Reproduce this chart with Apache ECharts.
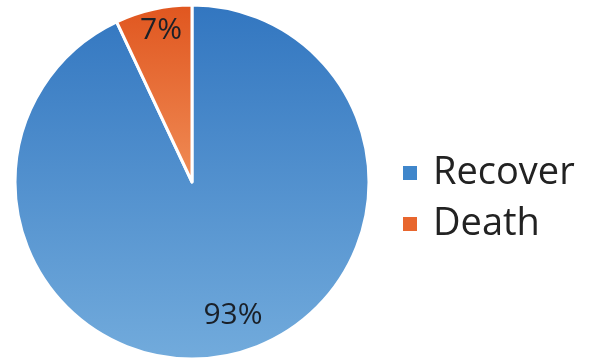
<!DOCTYPE html>
<html>
<head>
<meta charset="utf-8">
<script src="https://cdn.jsdelivr.net/npm/echarts@6/dist/echarts.min.js"></script>
<style>
  html, body { margin: 0; padding: 0; background: #ffffff; }
  #chart { width: 594px; height: 360px; }
</style>
</head>
<body>
<div id="chart"></div>
<script>
// Outcome shares (percent)
const categories = ['Recover', 'Death'];
const shares = [93, 7];
const sliceLabels = ['93%', '7%'];

// Per-slice look: vertical gradient, flat legend swatch and label nudge
const sliceStyles = [
  { top: '#3276c0', bottom: '#72abdc', swatch: '#3f86cb', offset: [21, 44] },
  { top: '#e0561f', bottom: '#f08c56', swatch: '#e8662e', offset: [-11, -62] }
];

const chart = echarts.init(document.getElementById('chart'), null, { renderer: 'canvas' });

const data = categories.map((name, i) => ({
  name: name,
  value: shares[i],
  itemStyle: {
    color: new echarts.graphic.LinearGradient(0, 0, 0, 1, [
      { offset: 0, color: sliceStyles[i].top },
      { offset: 1, color: sliceStyles[i].bottom }
    ])
  },
  label: { offset: sliceStyles[i].offset }
}));

chart.setOption({
  animation: false,
  backgroundColor: '#ffffff',
  legend: {
    orient: 'vertical',
    left: 396,
    top: 149,
    icon: 'rect',
    itemWidth: 16,
    itemHeight: 16,
    itemGap: 13,
    data: categories.map((name, i) => ({
      name: name,
      itemStyle: { color: sliceStyles[i].swatch }
    })),
    textStyle: {
      fontFamily: 'Open Sans',
      fontSize: 38,
      lineHeight: 38,
      color: '#222222',
      padding: [0, 0, 0, 10]
    }
  },
  series: [{
    type: 'pie',
    center: [192, 182],
    radius: [0, 177],
    startAngle: 90,
    clockwise: true,
    silent: true,
    data: data,
    itemStyle: {
      borderColor: '#ffffff',
      borderWidth: 3
    },
    label: {
      show: true,
      position: 'inside',
      formatter: (p) => sliceLabels[p.dataIndex],
      fontFamily: 'Open Sans',
      fontSize: 30,
      color: '#1a2028'
    },
    labelLine: { show: false }
  }]
});
</script>
</body>
</html>
